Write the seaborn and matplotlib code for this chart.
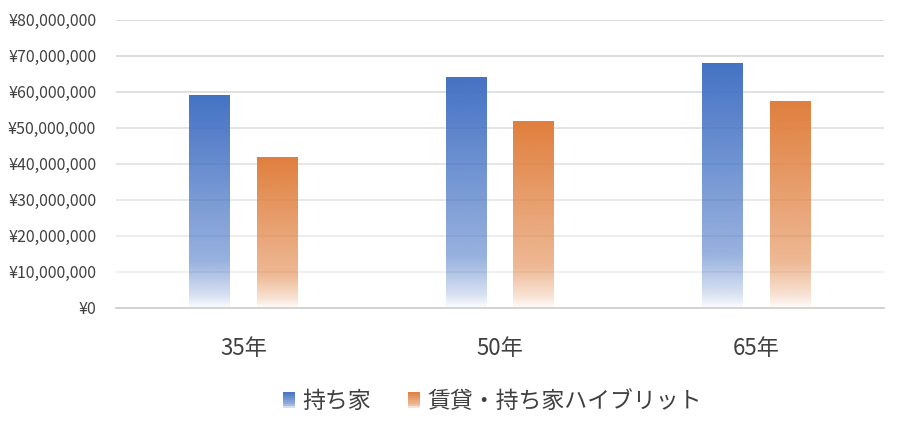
import numpy as np
import pandas as pd
import seaborn as sns
import matplotlib.pyplot as plt
from matplotlib.colors import to_rgb
from matplotlib.patches import Rectangle
from matplotlib.legend_handler import HandlerBase
from matplotlib.ticker import FuncFormatter

# Data
periods = ["35年", "50年", "65年"]
series = ["持ち家", "賃貸・持ち家ハイブリット"]
owned = [59000000, 64000000, 67900000]
hybrid = [41800000, 51800000, 57300000]
colors = ["#4472C4", "#E07F3D"]

df = pd.DataFrame({
    "period": periods * 2,
    "series": [series[0]] * 3 + [series[1]] * 3,
    "value": owned + hybrid,
})

sns.set_theme(style="white")
plt.rcParams["font.family"] = ["Noto Sans CJK JP", "DejaVu Sans"]

fig = plt.figure(figsize=(9.04, 4.30), dpi=100)
ax = fig.add_axes([0.128, 0.284, 0.850, 0.670])

sns.barplot(data=df, x="period", y="value", hue="series", hue_order=series,
            palette=colors, width=0.53, gap=0.4, legend=False, ax=ax)


def alpha_profile(t):
    # t: 0 at bottom of bar, 1 at top
    return np.interp(t, [0.0, 0.06, 0.22, 1.0], [0.02, 0.22, 0.55, 1.0])


# replace flat bars with vertical alpha gradients
bars = list(ax.patches)
for i, p in enumerate(bars):
    c = colors[i // len(periods)]
    x, w, h = p.get_x(), p.get_width(), p.get_height()
    t = np.linspace(0, 1, 256)
    img = np.zeros((256, 1, 4))
    img[:, 0, :3] = to_rgb(c)
    img[:, 0, 3] = alpha_profile(t)
    ax.imshow(img, extent=[x, x + w, 0, h], origin="lower", aspect="auto",
              interpolation="bilinear", zorder=3)
    p.set_visible(False)

ax.set_xlim(-0.5, 2.5)
ax.set_ylim(0, 80000000)
ax.set_yticks(np.arange(0, 80000001, 10000000))
ax.yaxis.set_major_formatter(FuncFormatter(lambda v, _: f"¥{int(v):,}"))
ax.set_xlabel("")
ax.set_ylabel("")
ax.tick_params(axis="y", length=0, pad=14, labelsize=11.5, labelcolor="#404040")
ax.tick_params(axis="x", length=0, pad=21, labelsize=16, labelcolor="#404040")

# gridlines fade from top to bottom
ax.grid(axis="y", zorder=0)
ax.set_axisbelow(True)
grid_cols = np.linspace(0.94, 0.81, 9)
for gl, g in zip(ax.yaxis.get_gridlines(), grid_cols):
    gl.set_color((g, g, g))
    gl.set_linewidth(1.1)
for s in ["top", "right", "left"]:
    ax.spines[s].set_visible(False)
ax.spines["bottom"].set_color("#d0d0d0")
ax.spines["bottom"].set_linewidth(1.3)
ax.spines["bottom"].set_zorder(4)


class GradientHandler(HandlerBase):
    def create_artists(self, legend, orig, x0, y0, width, height, fontsize, trans):
        n = 8
        arts = []
        for k in range(n):
            a = alpha_profile((k + 0.5) / n)
            r = Rectangle((x0, y0 + height * k / n), width, height / n,
                          facecolor=orig.get_facecolor()[:3], alpha=a,
                          edgecolor="none", transform=trans)
            arts.append(r)
        return arts


handles = [Rectangle((0, 0), 1, 1, facecolor=c) for c in colors]
ax.legend(handles, series, loc="center", bbox_to_anchor=(0.49, -0.326), ncol=2,
          frameon=False, fontsize=16.5, handlelength=0.55, handleheight=0.7,
          handletextpad=0.3, columnspacing=1.6, labelcolor="#404040",
          handler_map={Rectangle: GradientHandler()})

plt.savefig("out.png", dpi=100)
